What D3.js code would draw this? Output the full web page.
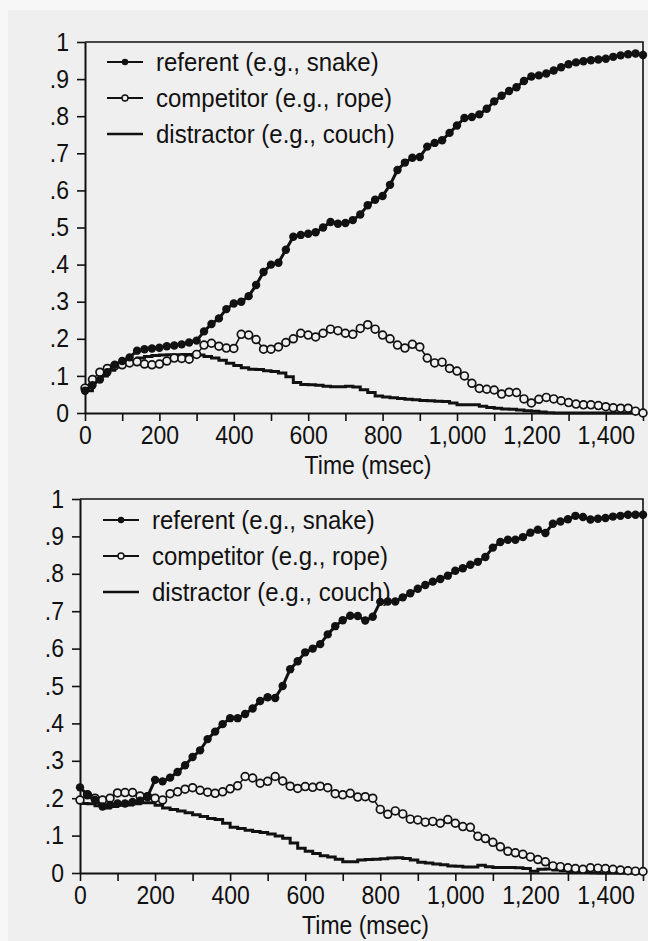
<!DOCTYPE html>
<html>
<head>
<meta charset="utf-8">
<script src="https://cdn.jsdelivr.net/npm/d3@7"></script>
<style>
  html, body { margin: 0; padding: 0; background: #f7f7f7; }
  svg { display: block; }
  text { font-family: "Liberation Sans", Arial, sans-serif; fill: #111; }
</style>
</head>
<body>
<div id="chart"></div>
<script>
// sampling every 20 ms, 0..1500
const times = d3.range(0, 1501, 20);
const xTicks = d3.range(0, 1501, 100);
const xLabels = [0, 200, 400, 600, 800, 1000, 1200, 1400];
const yTicks = [0, .1, .2, .3, .4, .5, .6, .7, .8, .9, 1];
const legendNames = ["referent (e.g., snake)", "competitor (e.g., rope)", "distractor (e.g., couch)"];
const xTitle = "Time (msec)";

// upper panel
const topReferent = [
  .060,.075,.090,.110,.130,.140,.150,.168,.172,.174,
  .176,.180,.182,.185,.190,.195,.220,.240,.255,.280,
  .295,.300,.315,.345,.380,.400,.405,.440,.475,.480,
  .483,.487,.500,.515,.510,.512,.520,.535,.560,.575,
  .585,.615,.655,.675,.688,.690,.718,.728,.735,.755,
  .775,.795,.798,.805,.820,.840,.855,.868,.878,.895,
  .907,.910,.915,.923,.932,.940,.945,.948,.951,.953,
  .955,.960,.964,.967,.969,.965];
const topCompetitor = [
  .067,.090,.110,.120,.127,.130,.135,.138,.132,.130,
  .132,.140,.148,.147,.145,.158,.183,.188,.180,.175,
  .174,.212,.210,.198,.172,.172,.178,.190,.200,.215,
  .210,.205,.215,.226,.222,.215,.212,.228,.238,.226,
  .210,.200,.183,.175,.185,.178,.148,.135,.137,.120,
  .113,.100,.080,.066,.064,.062,.051,.056,.055,.038,
  .027,.037,.042,.038,.033,.028,.024,.022,.022,.020,
  .017,.014,.013,.013,.005,.000];
const topDistractor = [
  .060,.085,.100,.115,.125,.132,.140,.148,.152,.155,
  .156,.157,.157,.158,.158,.156,.152,.148,.142,.134,
  .128,.122,.118,.117,.114,.112,.108,.098,.082,.077,
  .076,.075,.072,.071,.071,.072,.070,.063,.055,.046,
  .043,.041,.039,.037,.036,.034,.033,.032,.031,.027,
  .022,.022,.022,.018,.015,.013,.011,.010,.008,.006,
  .005,.003,.001,0,0,0,0,0,0,0,
  0,0,0,0,0,0];

// lower panel
const bottomReferent = [
  .229,.209,.195,.178,.182,.186,.186,.190,.193,.205,
  .249,.245,.255,.270,.288,.310,.328,.358,.378,.398,
  .414,.414,.425,.440,.460,.470,.468,.500,.545,.566,
  .590,.600,.612,.638,.660,.676,.688,.687,.675,.685,
  .725,.726,.726,.737,.748,.760,.770,.779,.786,.795,
  .808,.815,.824,.832,.845,.870,.885,.891,.891,.898,
  .910,.918,.909,.934,.940,.946,.955,.952,.945,.947,
  .949,.953,.955,.958,.958,.958];
const bottomCompetitor = [
  .195,.209,.200,.195,.200,.214,.215,.215,.206,.204,
  .200,.195,.212,.217,.224,.228,.221,.216,.213,.217,
  .225,.233,.258,.254,.240,.245,.258,.246,.232,.226,
  .231,.229,.232,.228,.212,.209,.213,.203,.204,.200,
  .170,.157,.166,.158,.144,.142,.136,.138,.133,.143,
  .133,.124,.122,.098,.092,.082,.070,.058,.054,.050,
  .043,.036,.030,.019,.017,.014,.012,.010,.014,.013,
  .012,.010,.008,.006,.005,.004];
const bottomDistractor = [
  .186,.185,.180,.174,.178,.181,.182,.185,.188,.188,
  .181,.174,.170,.166,.161,.156,.151,.146,.143,.133,
  .122,.119,.114,.111,.108,.104,.099,.093,.080,.066,
  .058,.052,.046,.043,.037,.030,.030,.035,.036,.037,
  .038,.040,.041,.039,.035,.029,.027,.024,.022,.019,
  .018,.016,.016,.021,.017,.015,.015,.015,.014,.012,
  .005,.010,.011,.008,.006,.004,.003,.002,.001,0,
  0,0,0,0,0,0];

const width = 648, height = 941;
const bg = "#efefef";
const stretch = "scale(1,1.1)";  // the scanned lettering is a bit taller than Arial

const panels = [
  { left: 85, right: 643, top: 42, bottom: 413, legX: 107, legY: 62,
    ref: topReferent, comp: topCompetitor, dist: topDistractor },
  { left: 80, right: 643, top: 499, bottom: 873, legX: 103, legY: 520,
    ref: bottomReferent, comp: bottomCompetitor, dist: bottomDistractor }
];

const svg = d3.select("#chart").append("svg")
  .attr("width", width)
  .attr("height", height);

svg.append("rect").attr("x", 8).attr("y", 10)
  .attr("width", width - 8).attr("height", height - 10)
  .attr("fill", bg);

const yFmt = d => d === 0 ? "0" : d === 1 ? "1" : d3.format(".1f")(d).replace(/^0/, "");

panels.forEach(p => {
  const x = d3.scaleLinear().domain([0, 1500]).range([p.left, p.right]);
  const y = d3.scaleLinear().domain([0, 1]).range([p.bottom, p.top]);
  const g = svg.append("g");

  // frame (top + right)
  g.append("path")
    .attr("d", `M${p.left},${p.top}H${p.right}V${p.bottom}`)
    .attr("fill", "none").attr("stroke", "#111").attr("stroke-width", 1.6);

  const xa = g.append("g")
    .attr("transform", `translate(0,${p.bottom})`)
    .call(d3.axisBottom(x).tickValues(xTicks).tickSize(8).tickSizeOuter(0).tickPadding(4)
      .tickFormat(d => xLabels.includes(d) ? d3.format(",")(d) : ""));
  const ya = g.append("g")
    .attr("transform", `translate(${p.left},0)`)
    .call(d3.axisLeft(y).tickValues(yTicks).tickSize(8).tickSizeOuter(0).tickPadding(8)
      .tickFormat(yFmt));
  [xa, ya].forEach(a => {
    a.attr("font-family", null).attr("font-size", null);
    a.select(".domain").attr("stroke", "#111").attr("stroke-width", 2);
    a.selectAll(".tick line").attr("stroke", "#111").attr("stroke-width", 1.6);
    a.selectAll("text").style("font-size", "23px").attr("fill", "#111")
      .attr("transform", stretch);
  });

  g.append("g")
    .attr("transform", `translate(${x(750) + 4},${p.bottom + 61})`)
    .append("text")
    .attr("text-anchor", "middle")
    .attr("transform", stretch)
    .style("font-size", "23px")
    .text(xTitle);

  const pts = arr => arr.map((v, i) => ({ t: times[i], v: v }));
  const line = d3.line().x(d => x(d.t)).y(d => y(d.v));

  // distractor: plain stepped line
  g.append("path")
    .datum(pts(p.dist))
    .attr("d", line.curve(d3.curveStepAfter))
    .attr("fill", "none").attr("stroke", "#111").attr("stroke-width", 3);
  line.curve(d3.curveLinear);

  // competitor: open circles
  g.append("path")
    .datum(pts(p.comp))
    .attr("d", line)
    .attr("fill", "none").attr("stroke", "#111").attr("stroke-width", 1.5);
  g.append("g").selectAll("circle")
    .data(pts(p.comp)).join("circle")
    .attr("cx", d => x(d.t)).attr("cy", d => y(d.v)).attr("r", 3.9)
    .attr("fill", bg).attr("stroke", "#111").attr("stroke-width", 1.7);

  // referent: filled circles
  g.append("path")
    .datum(pts(p.ref))
    .attr("d", line)
    .attr("fill", "none").attr("stroke", "#111").attr("stroke-width", 3);
  g.append("g").selectAll("circle")
    .data(pts(p.ref)).join("circle")
    .attr("cx", d => x(d.t)).attr("cy", d => y(d.v)).attr("r", 4.2)
    .attr("fill", "#111");

  // legend
  const leg = g.append("g").attr("transform", `translate(${p.legX},${p.legY})`);
  legendNames.forEach((name, i) => {
    const row = leg.append("g").attr("transform", `translate(0,${i * 36})`);
    row.append("line").attr("x1", 0).attr("x2", 36).attr("y1", 0).attr("y2", 0)
      .attr("stroke", "#111").attr("stroke-width", i === 2 ? 2.5 : 1.8);
    if (i === 0) row.append("circle").attr("cx", 18).attr("r", 3.2).attr("fill", "#111");
    if (i === 1) row.append("circle").attr("cx", 18).attr("r", 3)
      .attr("fill", bg).attr("stroke", "#111").attr("stroke-width", 1.4);
    row.append("text").attr("x", 49).attr("y", 0).attr("dy", "0.35em")
      .attr("transform", stretch)
      .style("font-size", "24px").text(name);
  });
});
</script>
</body>
</html>
